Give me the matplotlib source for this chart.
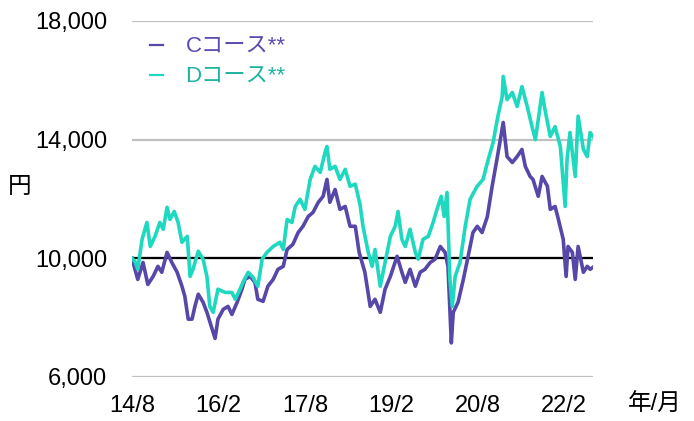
import matplotlib
matplotlib.use("Agg")
import matplotlib.pyplot as plt
from matplotlib.lines import Line2D

plt.rcParams['font.family'] = ['Liberation Sans', 'Noto Sans CJK JP', 'DejaVu Sans']

# months since 2014/8
c_months = [0, 1.2, 2.3, 3.3, 4.4, 5.4, 6.2, 7.3, 8.3, 9.4, 10.4, 11.0, 11.7, 12.5, 13.1,
            13.8, 14.8, 15.6, 16.7, 17.3, 17.9, 19.0, 20.0, 20.8, 21.9, 22.9, 23.5, 24.6,
            25.6, 26.2, 27.3, 28.3, 29.4, 30.4, 31.5, 32.3, 33.5, 34.6, 35.6, 36.7, 37.7,
            38.8, 39.8, 40.6, 41.2, 42.3, 43.3, 44.4, 45.4, 46.5, 47.3, 48.5, 49.6, 50.6,
            51.7, 52.7, 53.8, 55.2, 56.2, 56.9, 57.9, 59.0, 60.0, 61.0, 62.1, 63.1, 64.2,
            65.2, 65.8, 66.5, 66.9, 67.9, 69.0, 70.0, 71.0, 71.9, 72.9, 74.0, 75.0, 76.0,
            76.7, 77.3, 78.1, 79.2, 80.2, 81.2, 81.9, 82.9, 83.5, 84.6, 85.4, 86.5, 87.1,
            88.1, 88.8, 89.8, 90.4, 90.8, 91.7, 92.3, 92.9, 94.0, 94.8, 95.4, 96.0]
c_values = [10000, 9290, 9860, 9120, 9390, 9730, 9530, 10200, 9860, 9530, 9060, 8720, 7950,
            7950, 8380, 8790, 8520, 8180, 7610, 7300, 7950, 8280, 8380, 8110, 8520, 8960,
            9290, 9390, 9190, 8620, 8550, 9060, 9290, 9630, 9730, 10300, 10470, 10870,
            11080, 11410, 11550, 11890, 12090, 12660, 11890, 12320, 11650, 11750, 11080,
            11080, 10200, 9530, 8380, 8620, 8180, 8960, 9390, 10070, 9530, 9190, 9630,
            9060, 9530, 9630, 9860, 9970, 10400, 10200, 9730, 7150, 8180, 8520, 9290,
            10070, 10870, 11080, 10870, 11410, 12430, 13340, 14000, 14580, 13430, 13230,
            13430, 13670, 13100, 12760, 12660, 12090, 12760, 12430, 11650, 11750, 11310,
            10640, 9390, 10400, 10200, 9290, 10400, 9530, 9730, 9630, 9700]

d_months = [0, 0.6, 1.2, 2.1, 3.1, 3.8, 4.8, 5.8, 6.5, 7.3, 7.9, 8.8, 9.6, 10.4, 11.5, 12.1,
            12.7, 13.8, 14.8, 15.6, 16.2, 16.9, 17.9, 19.4, 20.8, 21.5, 22.5, 23.1, 24.2,
            25.2, 26.2, 27.1, 28.1, 29.4, 30.8, 31.5, 32.3, 33.3, 34.0, 35.0, 36.0, 37.1,
            38.1, 39.2, 40.2, 40.6, 41.2, 42.3, 43.3, 44.4, 45.4, 46.5, 47.5, 48.1, 49.2,
            50.0, 50.6, 51.7, 52.7, 53.8, 54.8, 55.4, 56.2, 56.9, 57.9, 59.0, 59.6, 60.6,
            61.7, 62.7, 63.5, 64.4, 65.0, 65.6, 66.2, 66.7, 67.3, 68.3, 69.4, 70.4, 71.5,
            71.9, 73.1, 74.2, 75.2, 76.2, 77.1, 77.3, 78.1, 79.2, 80.2, 81.2, 82.3, 83.3,
            84.0, 84.6, 85.4, 86.0, 87.1, 88.1, 89.2, 90.2, 90.6, 91.2, 92.3, 92.9, 94.0,
            94.8, 95.4, 96.0]
d_values = [10000, 9900, 9630, 10640, 11210, 10400, 10740, 11210, 10980, 11720, 11310, 11580,
            11210, 10540, 10740, 9390, 9630, 10240, 9970, 9390, 8380, 8180, 8960, 8850, 8850,
            8620, 8960, 9190, 9530, 9360, 9060, 9970, 10200, 10400, 10540, 10300, 11310,
            11210, 11750, 11990, 11650, 12660, 13100, 12900, 13570, 13770, 13000, 13100,
            12660, 13000, 12430, 12500, 11800, 11080, 10200, 9730, 10300, 9060, 9860, 10740,
            11080, 11580, 10640, 10400, 10980, 10200, 9970, 10640, 10740, 11210, 11650,
            12090, 11410, 12220, 9290, 8380, 9390, 9860, 11080, 11990, 12320, 12430, 12660,
            13340, 13910, 14790, 15460, 16130, 15350, 15590, 15120, 15790, 15120, 14440,
            14000, 14680, 15590, 15010, 14110, 14440, 13770, 11750, 13340, 14240, 12760,
            14790, 13670, 13430, 14240, 14110]

tick_months = [0, 18, 36, 54, 72, 90]
tick_labels = ['14/8', '16/2', '17/8', '19/2', '20/8', '22/2']
y_ticks = [6000, 10000, 14000, 18000]

c_color = '#5647a8'
d_color = '#1ed8bf'

fig = plt.figure(figsize=(6.94, 4.21), dpi=100)
ax = fig.add_axes([132 / 694, 1 - 377 / 421, (593 - 132) / 694, (377 - 21) / 421])

for v in y_ticks:
    ax.axhline(v, color='#c0c0c0', lw=1.6, zorder=1)
ax.axhline(10000, color='black', lw=1.6, zorder=2)

ax.plot(c_months, c_values, color=c_color, lw=2.6, zorder=3)
ax.plot(d_months, d_values, color=d_color, lw=2.6, zorder=3)

ax.set_xlim(0, 96)
ax.set_ylim(6000, 18000)
ax.set_yticks(y_ticks)
ax.set_yticklabels([f"{v:,}" for v in y_ticks])
ax.set_xticks(tick_months)
ax.set_xticklabels(tick_labels)
ax.tick_params(axis='both', length=0, labelsize=17)
ax.tick_params(axis='y', pad=18)
ax.tick_params(axis='x', pad=13)
for s in ax.spines.values():
    s.set_visible(False)

handles = [Line2D([], [], color=c_color, lw=1.6), Line2D([], [], color=d_color, lw=1.6)]
leg = ax.legend(handles, ['Cコース**', 'Dコース**'], loc='upper left',
                bbox_to_anchor=(150 / 694, 1 - 37 / 421), bbox_transform=fig.transFigure,
                frameon=False, fontsize=16, handlelength=0.6, handletextpad=1.0,
                labelspacing=0.4, borderpad=0, borderaxespad=0)
leg.get_texts()[0].set_color('#5a4bb0')
leg.get_texts()[1].set_color('#1fb39e')

fig.text(20 / 694, 1 - 187 / 421, '円', fontsize=17, ha='center', va='center')
fig.text(655 / 694, 1 - 405 / 421, '年/月', fontsize=17, ha='center', va='center')

fig.savefig('out.png', dpi=100)
